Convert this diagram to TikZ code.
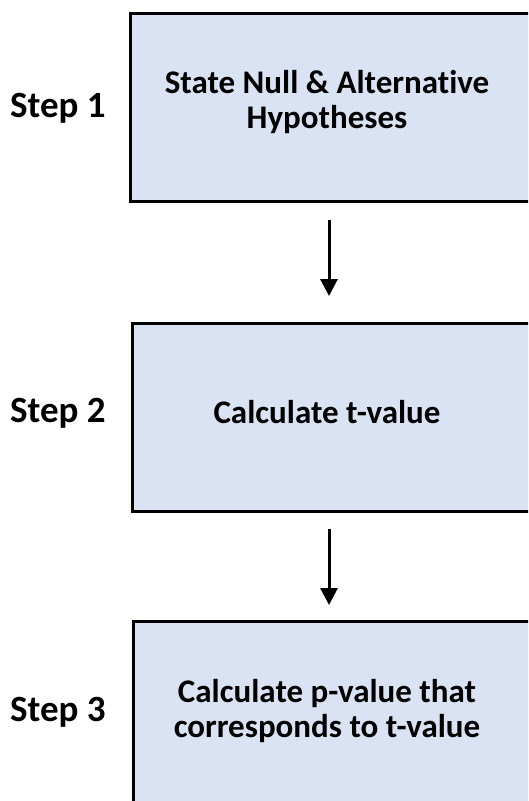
\documentclass[tikz,border=0pt]{standalone}
\usepackage{fontspec}
\setmainfont[Ligatures={NoCommon}]{Carlito}
\usetikzlibrary{arrows.meta}
\definecolor{boxfill}{HTML}{DAE3F3}
\tikzset{
  stepbox/.style={draw=black, line width=2.6pt, fill=boxfill, rectangle, inner sep=0pt},
  boxtext/.style={font=\bfseries\fontsize{33}{35}\selectfont, align=center, inner sep=0pt, anchor=base},
  steplabel/.style={font=\bfseries\fontsize{37}{40}\selectfont, inner sep=0pt, anchor=base west},
  flowarrow/.style={line width=3pt, -{Triangle[width=17pt,length=17pt]}}
}
\begin{document}
\begin{tikzpicture}[x=1pt,y=-1pt]
\useasboundingbox (0,0) rectangle (528,801);
\clip (0,0) rectangle (528,801);
% boxes (extend beyond right / bottom edge)
\node[stepbox, minimum width=432pt, minimum height=188pt, anchor=north west] (box1) at (129,12) {};
\node[stepbox, minimum width=430pt, minimum height=188pt, anchor=north west] (box2) at (131,322) {};
\node[stepbox, minimum width=430pt, minimum height=230pt, anchor=north west] (box3) at (132,620) {};
% box texts (base = baseline of last line)
\node[boxtext] (t1) at (327,128) {State Null \& Alternative\\Hypotheses};
\node[boxtext] (t2) at (327,423) {Calculate t-value};
\node[boxtext] (t3) at (327,737) {Calculate p-value that\\corresponds to t-value};
% step labels
\node[steplabel] (s1) at (10,117) {Step 1};
\node[steplabel] (s2) at (10,422) {Step 2};
\node[steplabel] (s3) at (10,721) {Step 3};
% arrows
\coordinate (a1s) at (329,220);
\coordinate (a1e) at (329,296);
\coordinate (a2s) at (329,529);
\coordinate (a2e) at (329,605);
\draw[flowarrow] (a1s) -- (a1e);
\draw[flowarrow] (a2s) -- (a2e);
\end{tikzpicture}
\end{document}
